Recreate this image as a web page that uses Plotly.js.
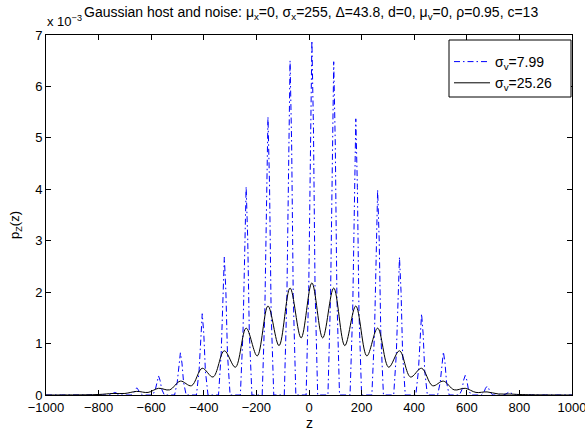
<!DOCTYPE html>
<html>
<head>
<meta charset="utf-8">
<script src="https://cdn.plot.ly/plotly-3.0.1.min.js"></script>
<style>html,body{margin:0;padding:0;background:#fff;}#chart{width:585px;height:434px;}</style>
</head>
<body>
<div id="chart"></div>
<script>
// Values in units of 10^-3
// sigma_v = 7.99 (narrow peaks)
const zBlue = [
  -1000, -761, -751, -745, -739, -733, -727, -717,
  -677, -667, -661, -655, -649, -643, -633,
  -594, -584, -578, -572, -566, -560, -550,
  -511, -501, -495, -489, -483, -477, -467,
  -428, -418, -412, -406, -400, -394, -384,
  -344, -334, -328, -322, -316, -310, -300,
  -261, -251, -245, -239, -233, -227, -217,
  -178, -168, -162, -156, -150, -144, -134,
  -94, -84, -78, -72, -66, -60, -50,
  -11, -1, 5, 11, 17, 23, 33,
  72, 82, 88, 94, 100, 106, 116,
  156, 166, 172, 178, 184, 190, 200,
  239, 249, 255, 261, 267, 273, 283,
  322, 332, 338, 344, 350, 356, 366,
  406, 416, 422, 428, 434, 440, 450,
  489, 499, 505, 511, 517, 523, 533,
  572, 582, 588, 594, 600, 606, 616,
  655, 665, 671, 677, 683, 689, 699,
  739, 749, 755, 761, 767, 773, 783, 1000
];
const pBlue = [
  0, 0, 0.015, 0.04, 0.05, 0.04, 0.015, 0,
  0, 0.04, 0.10, 0.14, 0.10, 0.04, 0,
  0, 0.11, 0.28, 0.37, 0.28, 0.11, 0,
  0, 0.25, 0.62, 0.82, 0.62, 0.25, 0,
  0, 0.47, 1.19, 1.58, 1.19, 0.47, 0,
  0, 0.80, 2.01, 2.68, 2.01, 0.80, 0,
  0, 1.22, 3.04, 4.05, 3.04, 1.22, 0,
  0, 1.62, 4.06, 5.41, 4.06, 1.62, 0,
  0, 1.95, 4.88, 6.50, 4.88, 1.95, 0,
  0, 2.07, 5.17, 6.89, 5.17, 2.07, 0,
  0, 1.94, 4.86, 6.48, 4.86, 1.94, 0,
  0, 1.61, 4.03, 5.37, 4.03, 1.61, 0,
  0, 1.20, 2.99, 3.99, 2.99, 1.20, 0,
  0, 0.80, 2.01, 2.68, 2.01, 0.80, 0,
  0, 0.47, 1.19, 1.58, 1.19, 0.47, 0,
  0, 0.25, 0.63, 0.84, 0.63, 0.25, 0,
  0, 0.11, 0.29, 0.38, 0.29, 0.11, 0,
  0, 0.05, 0.13, 0.17, 0.13, 0.05, 0,
  0, 0.02, 0.045, 0.06, 0.045, 0.02, 0, 0
];
// sigma_v = 25.26 (smooth oscillation): peaks and troughs
const zBlack = [
  -1000, -900, -800, -745, -700, -655, -612, -572, -530, -489, -447, -406, -365,
  -322, -280, -239, -197, -156, -114, -72, -30, 11, 52, 94, 136, 178, 220,
  261, 303, 344, 386, 428, 470, 511, 552, 594, 635, 677, 720, 761, 800, 900, 1000
];
const pBlack = [
  0, 0.002, 0.01, 0.03, 0.03, 0.07, 0.05, 0.13, 0.10, 0.27, 0.18, 0.52, 0.35,
  0.86, 0.54, 1.30, 0.76, 1.73, 0.96, 2.08, 1.11, 2.18, 1.11, 2.08, 0.96, 1.73, 0.76,
  1.30, 0.54, 0.86, 0.35, 0.52, 0.18, 0.27, 0.10, 0.13, 0.05, 0.06, 0.02, 0.02, 0.01, 0.002, 0
];
const seriesNames = ['σ<sub>v</sub>=7.99', 'σ<sub>v</sub>=25.26'];
const xTicks = [-1000, -800, -600, -400, -200, 0, 200, 400, 600, 800, 1000];
const yTicks = [0, 1, 2, 3, 4, 5, 6, 7];

const FONT = 'Liberation Sans, Arial, Helvetica, sans-serif';
const W = 585, H = 434, ML = 46, MR = 13, MT = 35, MB = 39;
const PW = W - ML - MR, PH = H - MT - MB;
const px = v => (v - ML) / PW;      // pixel -> paper x
const py = v => (H - MB - v) / PH;  // pixel -> paper y

const traces = [
  {x: zBlue, y: pBlue, mode: 'lines', name: seriesNames[0],
   line: {color: '#0000ff', width: 1, dash: '6px,3px,1.5px,3px'}},
  {x: zBlack, y: pBlack, mode: 'lines', name: seriesNames[1],
   line: {color: '#000000', width: 1, shape: 'spline', smoothing: 1}}
];

const layout = {
  width: W, height: H,
  margin: {l: ML, r: MR, t: MT, b: MB},
  paper_bgcolor: '#fff', plot_bgcolor: '#fff',
  font: {family: FONT, size: 13, color: '#000'},
  showlegend: true,
  legend: {x: px(449), y: py(46), xanchor: 'left', yanchor: 'top',
           bgcolor: 'rgba(0,0,0,0)', borderwidth: 0, itemwidth: 36,
           font: {family: FONT, size: 14}},
  shapes: [
    {type: 'rect', xref: 'paper', yref: 'paper', x0: px(449), x1: px(571), y0: py(97), y1: py(40),
     line: {color: '#000', width: 1}, fillcolor: '#fff', layer: 'above'}
  ],
  xaxis: {range: [-1000, 1000], tickvals: xTicks, ticks: 'inside', ticklen: 5,
          tickcolor: '#000', showline: true, linecolor: '#000', linewidth: 1,
          mirror: 'ticks', showgrid: false, zeroline: false, ticklabeloverflow: 'allow',
          tickfont: {family: FONT, size: 13}},
  yaxis: {range: [0, 7], tickvals: yTicks, ticks: 'inside', ticklen: 5,
          tickcolor: '#000', showline: true, linecolor: '#000', linewidth: 1,
          mirror: 'ticks', showgrid: false, zeroline: false, ticklabeloverflow: 'allow',
          tickfont: {family: FONT, size: 13}},
  annotations: [
    {text: 'Gaussian host and noise: μ<sub>x</sub>=0, σ<sub>x</sub>=255, Δ=43.8, d=0, μ<sub>v</sub>=0, ρ=0.95, c=13',
     xref: 'paper', yref: 'paper', x: px(311), y: py(24), xanchor: 'center', yanchor: 'bottom',
     showarrow: false, font: {family: FONT, size: 14}},
    {text: 'x 10<sup>−3</sup>', xref: 'paper', yref: 'paper', x: px(45), y: py(31),
     xanchor: 'left', yanchor: 'bottom', showarrow: false, font: {family: FONT, size: 13}},
    {text: 'p<sub>Z</sub>(z)', xref: 'paper', yref: 'paper', x: px(15), y: py(225),
     xanchor: 'center', yanchor: 'middle', textangle: -90, showarrow: false,
     font: {family: FONT, size: 13}},
    {text: 'z', xref: 'paper', yref: 'paper', x: 0.5, y: py(423),
     xanchor: 'center', yanchor: 'middle', showarrow: false, font: {family: FONT, size: 14}}
  ]
};

Plotly.newPlot('chart', traces, layout, {displayModeBar: false, staticPlot: true});
</script>
</body>
</html>
